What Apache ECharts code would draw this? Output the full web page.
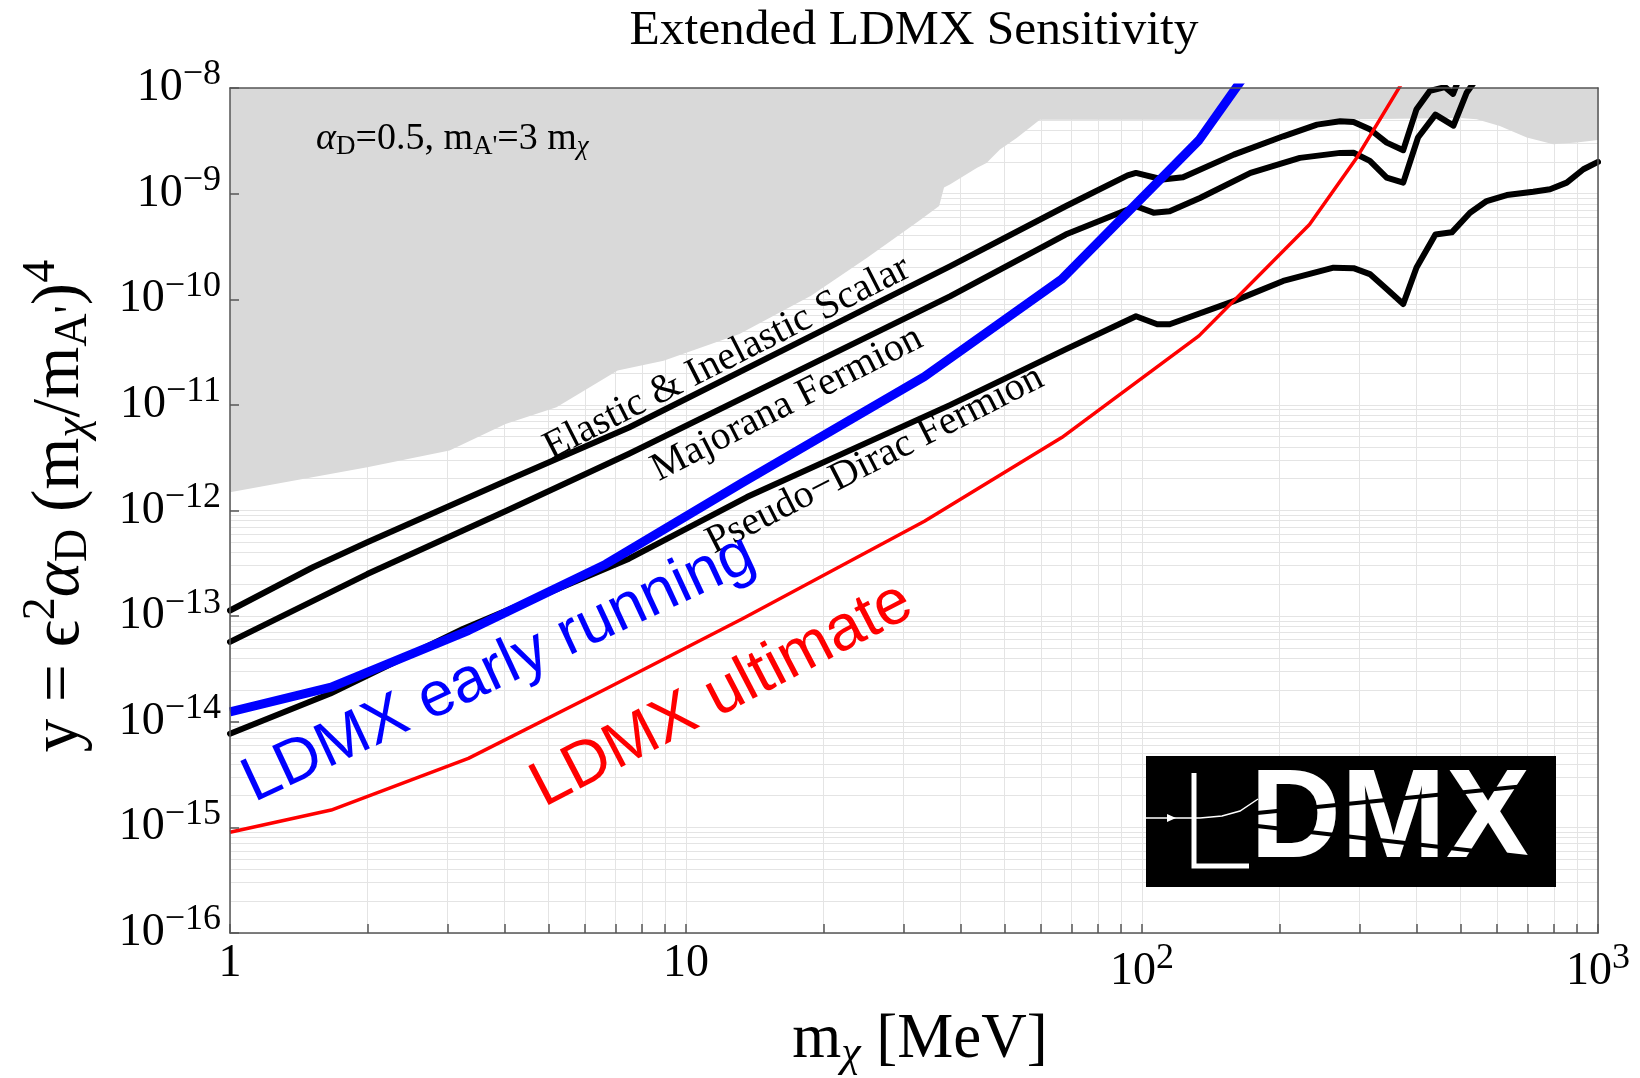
<!DOCTYPE html>
<html>
<head>
<meta charset="utf-8">
<title>Extended LDMX Sensitivity</title>
<script src="https://cdn.jsdelivr.net/npm/echarts@6/dist/echarts.min.js"></script>
<style>
  html, body { margin: 0; padding: 0; background: #fff; }
  #chart { width: 1640px; height: 1078px; }
</style>
</head>
<body>
<div id="chart"></div>
<script>
'use strict';

// values, x = m_chi [MeV], y = dimensionless yield
var excludedMass = [1, 2.0, 3.03, 4.02, 5.2, 7.08, 8.93, 13.1, 18.8, 25.0, 32.4, 35.9, 36.8, 37.9, 43.4, 45.6, 48.8, 53.1, 59.7, 245, 498, 542, 609, 698, 798, 898, 1000];
var excludedY = [1.49e-12, 2.57e-12, 3.69e-12, 6.6e-12, 9.5e-12, 2.11e-11, 2.62e-11, 4.69e-11, 1.08e-10, 2.48e-10, 5.52e-10, 7.65e-10, 1.14e-9, 1.22e-9, 1.75e-9, 1.95e-9, 2.61e-9, 3.37e-9, 5.0e-9, 5.0e-9, 5.2e-9, 5.06e-9, 4.37e-9, 3.39e-9, 2.94e-9, 3.04e-9, 3.22e-9];

var scalarMass = [1, 1.52, 2.0, 4.05, 7.5, 38, 68, 93, 97, 111, 123, 159, 204, 242, 272, 291, 316, 344, 374, 400, 428, 462, 481, 493, 510];
var scalarY = [1.13e-13, 2.9e-13, 5.0e-13, 1.92e-12, 6.1e-12, 2.06e-10, 7.6e-10, 1.49e-9, 1.57e-9, 1.36e-9, 1.43e-9, 2.34e-9, 3.49e-9, 4.5e-9, 4.84e-9, 4.77e-9, 4.07e-9, 3.04e-9, 2.58e-9, 6.3e-9, 9.4e-9, 1.02e-8, 8.8e-9, 1.15e-8, 1.4e-8];

var majoranaMass = [1, 2.0, 4.05, 7.5, 38, 68, 97, 106, 115, 134, 173, 222, 272, 291, 316, 344, 374, 403, 440, 482, 515, 540];
var majoranaY = [5.7e-14, 2.5e-13, 1.0e-12, 3.44e-12, 1.07e-10, 4.1e-10, 7.6e-10, 6.6e-10, 6.8e-10, 9.1e-10, 1.57e-9, 2.18e-9, 2.43e-9, 2.44e-9, 2.04e-9, 1.42e-9, 1.27e-9, 3.4e-9, 5.6e-9, 4.4e-9, 9.0e-9, 1.2e-8];

var pseudoMass = [1, 1.66, 3.25, 7.5, 13.6, 38, 68, 97, 108, 115, 159, 204, 263, 291, 316, 344, 374, 400, 440, 478, 524, 570, 631, 721, 785, 854, 929, 1000];
var pseudoY = [7.7e-15, 1.85e-14, 7.6e-14, 3.5e-13, 1.34e-12, 1.0e-11, 3.35e-11, 6.9e-11, 5.8e-11, 5.8e-11, 9.6e-11, 1.49e-10, 1.99e-10, 1.97e-10, 1.73e-10, 1.25e-10, 9.0e-11, 2.0e-10, 4.1e-10, 4.3e-10, 6.6e-10, 8.5e-10, 9.7e-10, 1.04e-9, 1.10e-9, 1.27e-9, 1.70e-9, 2.0e-9];

var earlyMass = [1, 1.667, 3.333, 6.667, 13.33, 33.33, 66.67, 133.3, 200];
var earlyY = [1.24e-14, 2.13e-14, 7.3e-14, 3.1e-13, 1.85e-12, 1.85e-11, 1.55e-10, 3.2e-9, 3.8e-8];

var ultimateMass = [1, 1.667, 3.333, 6.667, 13.33, 33.33, 66.67, 133.3, 233, 296, 369, 400];
var ultimateY = [9.0e-16, 1.46e-15, 4.5e-15, 2.04e-14, 9.5e-14, 7.9e-13, 4.9e-12, 4.5e-11, 5.1e-10, 2.2e-9, 1.06e-8, 1.9e-8];

// axis ticks and labels
var xTickValues = [1, 10, 100, 1000];
var xTickLabels = ['{b|1}', '{b|10}', '{b|10}{s|2}', '{b|10}{s|3}'];
var yTickValues = [1e-16, 1e-15, 1e-14, 1e-13, 1e-12, 1e-11, 1e-10, 1e-9, 1e-8];
var yTickLabels = ['{b|10}{s|\u221216}', '{b|10}{s|\u221215}', '{b|10}{s|\u221214}', '{b|10}{s|\u221213}',
  '{b|10}{s|\u221212}', '{b|10}{s|\u221211}', '{b|10}{s|\u221210}', '{b|10}{s|\u22129}', '{b|10}{s|\u22128}'];

// minor grid positions 1..9 x 10^n
function minorValues(lo, hi) {
  var out = [];
  for (var e = lo; e < hi; e++) {
    for (var k = 1; k <= 9; k++) out.push(k * Math.pow(10, e));
  }
  out.push(Math.pow(10, hi));
  return out;
}
var xGridValues = minorValues(0, 3);
var yGridValues = minorValues(-16, -8);

function pairs(xs, ys) {
  return xs.map(function (x, i) { return [x, ys[i]]; });
}

function nearestLabel(values, labels, v) {
  var best = 0;
  for (var i = 1; i < values.length; i++) {
    if (Math.abs(Math.log(values[i] / v)) < Math.abs(Math.log(values[best] / v))) best = i;
  }
  return labels[best];
}

var SERIF = '"Liberation Serif", "Times New Roman", serif';
var SANS = '"Liberation Sans", Arial, sans-serif';
var FRAME = '#555';

var tickRich = {
  b: { fontFamily: SERIF, fontSize: 46, color: '#000' },
  s: { fontFamily: SERIF, fontSize: 36, color: '#000', padding: [0, 0, 26, 0] }
};

var chart = echarts.init(document.getElementById('chart'));

var option = {
  animation: false,
  backgroundColor: '#fff',
  grid: { left: 230, top: 88, width: 1368, height: 845, outerBoundsMode: 'none', containLabel: false },
  xAxis: [
    { // grid lines only
      type: 'log', logBase: 10, min: 1, max: 1000, position: 'bottom',
      axisLine: { show: false }, axisLabel: { show: false },
      axisTick: { show: false, customValues: xGridValues },
      splitLine: { show: true, lineStyle: { color: '#e4e4e4', width: 1 } }
    },
    { // frame, ticks, labels
      type: 'log', logBase: 10, min: 1, max: 1000, position: 'bottom', z: 20,
      axisLine: { show: true, onZero: false, lineStyle: { color: FRAME, width: 1.5 } },
      axisTick: { show: true, inside: true, length: 9, customValues: xGridValues, lineStyle: { color: FRAME, width: 1.5 } },
      axisLabel: {
        customValues: xTickValues, margin: 8, rich: tickRich,
        formatter: function (v) { return nearestLabel(xTickValues, xTickLabels, v); }
      },
      splitLine: { show: false }
    },
    {
      type: 'log', logBase: 10, min: 1, max: 1000, position: 'top', z: 20,
      axisLine: { show: true, onZero: false, lineStyle: { color: FRAME, width: 1.5 } },
      axisTick: { show: false }, axisLabel: { show: false }, splitLine: { show: false }
    }
  ],
  yAxis: [
    {
      type: 'log', logBase: 10, min: 1e-16, max: 1e-8, position: 'left',
      axisLine: { show: false }, axisLabel: { show: false },
      axisTick: { show: false, customValues: yGridValues },
      splitLine: { show: true, lineStyle: { color: '#e4e4e4', width: 1 } }
    },
    {
      type: 'log', logBase: 10, min: 1e-16, max: 1e-8, position: 'left', z: 20,
      axisLine: { show: true, onZero: false, lineStyle: { color: FRAME, width: 1.5 } },
      axisTick: { show: true, inside: true, length: 9, customValues: yTickValues, lineStyle: { color: FRAME, width: 1.5 } },
      axisLabel: {
        customValues: yTickValues, margin: 9, rich: tickRich,
        formatter: function (v) { return nearestLabel(yTickValues, yTickLabels, v); }
      },
      splitLine: { show: false }
    },
    {
      type: 'log', logBase: 10, min: 1e-16, max: 1e-8, position: 'right', z: 20,
      axisLine: { show: true, onZero: false, lineStyle: { color: FRAME, width: 1.5 } },
      axisTick: { show: false }, axisLabel: { show: false }, splitLine: { show: false }
    }
  ],
  series: [
    {
      name: 'excluded', type: 'line', data: pairs(excludedMass, excludedY),
      symbol: 'none', silent: true, z: 1,
      lineStyle: { width: 0 },
      areaStyle: { color: '#d9d9d9', opacity: 1, origin: 'end' }
    },
    {
      name: 'Elastic & Inelastic Scalar', type: 'line', data: pairs(scalarMass, scalarY),
      symbol: 'none', silent: true, z: 3,
      lineStyle: { color: '#000', width: 6, join: 'round', cap: 'round' }
    },
    {
      name: 'Majorana Fermion', type: 'line', data: pairs(majoranaMass, majoranaY),
      symbol: 'none', silent: true, z: 3,
      lineStyle: { color: '#000', width: 6, join: 'round', cap: 'round' }
    },
    {
      name: 'Pseudo-Dirac Fermion', type: 'line', data: pairs(pseudoMass, pseudoY),
      symbol: 'none', silent: true, z: 3,
      lineStyle: { color: '#000', width: 6, join: 'round', cap: 'round' }
    },
    {
      name: 'LDMX early running', type: 'line', data: pairs(earlyMass, earlyY),
      symbol: 'none', silent: true, z: 4,
      lineStyle: { color: '#0000ff', width: 9, join: 'round' }
    },
    {
      name: 'LDMX ultimate', type: 'line', data: pairs(ultimateMass, ultimateY),
      symbol: 'none', silent: true, z: 5,
      lineStyle: { color: '#ff0000', width: 3.5, join: 'round' }
    }
  ],
  graphic: [
    {
      type: 'text', x: 914, y: 31, z: 100,
      style: { text: 'Extended LDMX Sensitivity', font: '49.5px ' + SERIF, fill: '#000', align: 'center', verticalAlign: 'middle' }
    },
    {
      type: 'text', x: 316, y: 139, z: 100,
      style: {
        text: '{i|\u03b1}{sb|D}{n|=0.5, m}{sb|A\'}{n|=3 m}{sbi|\u03c7}',
        align: 'left', verticalAlign: 'middle',
        rich: {
          n: { fontFamily: SERIF, fontSize: 38, fill: '#000' },
          i: { fontFamily: SERIF, fontSize: 38, fontStyle: 'italic', fill: '#000' },
          sb: { fontFamily: SERIF, fontSize: 27, fill: '#000', padding: [16, 0, 0, 0] },
          sbi: { fontFamily: SERIF, fontSize: 27, fontStyle: 'italic', fill: '#000', padding: [16, 0, 0, 0] }
        }
      }
    },
    {
      type: 'text', x: 727, y: 358, rotation: 27 * Math.PI / 180, z: 100,
      style: { text: 'Elastic & Inelastic Scalar', font: '40px ' + SERIF, fill: '#000', align: 'center', verticalAlign: 'middle' }
    },
    {
      type: 'text', x: 787, y: 404, rotation: 27 * Math.PI / 180, z: 100,
      style: { text: 'Majorana Fermion', font: '40px ' + SERIF, fill: '#000', align: 'center', verticalAlign: 'middle' }
    },
    {
      type: 'text', x: 875, y: 460, rotation: 27 * Math.PI / 180, z: 100,
      style: { text: 'Pseudo\u2212Dirac Fermion', font: '40px ' + SERIF, fill: '#000', align: 'center', verticalAlign: 'middle' }
    },
    {
      type: 'text', x: 499, y: 669, rotation: 25 * Math.PI / 180, z: 100,
      style: { text: 'LDMX early running', font: '63px ' + SANS, fill: '#0000ff', align: 'center', verticalAlign: 'middle' }
    },
    {
      type: 'text', x: 722, y: 695, rotation: 27.5 * Math.PI / 180, z: 100,
      style: { text: 'LDMX ultimate', font: '64px ' + SANS, fill: '#ff0000', align: 'center', verticalAlign: 'middle' }
    },
    { // axis titles
      type: 'text', x: 920, y: 1040, z: 100,
      style: {
        text: '{n|m}{si|\u03c7}{n| [MeV]}', align: 'center', verticalAlign: 'middle',
        rich: {
          n: { fontFamily: SERIF, fontSize: 63, fill: '#000' },
          si: { fontFamily: SERIF, fontSize: 44, fontStyle: 'italic', fill: '#000', padding: [28, 0, 0, 0] }
        }
      }
    },
    {
      type: 'text', x: 60, y: 506, rotation: Math.PI / 2, z: 100,
      style: {
        text: '{n|y = \u03f5}{sup|2}{i|\u03b1}{sub|D}{n| (m}{subi|\u03c7}{n|/m}{sub|A\'}{n|)}{sup|4}',
        align: 'center', verticalAlign: 'middle',
        rich: {
          n: { fontFamily: SERIF, fontSize: 67, fill: '#000' },
          i: { fontFamily: SERIF, fontSize: 67, fontStyle: 'italic', fill: '#000' },
          sup: { fontFamily: SERIF, fontSize: 46, fill: '#000', padding: [0, 0, 36, 0] },
          sub: { fontFamily: SERIF, fontSize: 46, fill: '#000', padding: [28, 0, 0, 0] },
          subi: { fontFamily: SERIF, fontSize: 46, fontStyle: 'italic', fill: '#000', padding: [28, 0, 0, 0] }
        }
      }
    },
    // LDMX logo
    { type: 'rect', z: 100, shape: { x: 1146, y: 756, width: 410, height: 131 }, style: { fill: '#000' } },
    { type: 'polyline', z: 101, shape: { points: [[1146, 818], [1200, 818], [1222, 816], [1240, 811], [1258, 799]] }, style: { stroke: '#fff', lineWidth: 1.5, fill: null } },
    { type: 'polygon', z: 101, shape: { points: [[1167, 814], [1176, 818], [1167, 822]] }, style: { fill: '#fff' } },
    { type: 'polyline', z: 101, shape: { points: [[1194, 773], [1194, 866], [1249, 866]] }, style: { stroke: '#fff', lineWidth: 5, fill: null } },
    {
      type: 'text', x: 1250, y: 822, z: 101,
      style: { text: 'DMX', font: 'bold 126px ' + SANS, fill: '#fff', align: 'left', verticalAlign: 'middle' }
    },
    { type: 'line', z: 102, shape: { x1: 1257, y1: 813, x2: 1545, y2: 784 }, style: { stroke: '#000', lineWidth: 4 } },
    { type: 'line', z: 102, shape: { x1: 1257, y1: 826, x2: 1545, y2: 859 }, style: { stroke: '#000', lineWidth: 4 } }
  ]
};

chart.setOption(option);
</script>
</body>
</html>
